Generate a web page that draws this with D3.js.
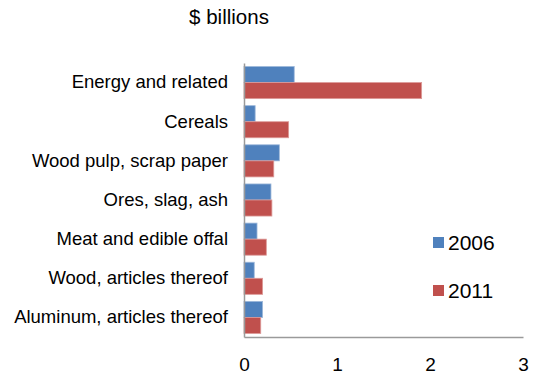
<!DOCTYPE html>
<html>
<head>
<meta charset="utf-8">
<script src="https://cdn.jsdelivr.net/npm/d3@7"></script>
<style>
  html, body { margin: 0; padding: 0; background: #fff; }
  svg { display: block; font-family: "Liberation Sans", Arial, sans-serif; }
</style>
</head>
<body>
<svg id="chart" width="535" height="375"></svg>
<script>
// Categories, top to bottom
const categories = [
  "Energy and related",
  "Cereals",
  "Wood pulp, scrap paper",
  "Ores, slag, ash",
  "Meat and edible offal",
  "Wood, articles thereof",
  "Aluminum, articles thereof"
];
const seriesNames = ["2006", "2011"];
const values2006 = [0.54, 0.12, 0.38, 0.29, 0.14, 0.11, 0.20];
const values2011 = [1.91, 0.48, 0.32, 0.30, 0.24, 0.20, 0.18];
const xTicks = [0, 1, 2, 3];
const colors = ["#4F81BD", "#C0504D"];

const svg = d3.select("#chart");
const plot = { left: 244, right: 523, top: 63, bottom: 337 };
const font = "Liberation Sans, Arial, sans-serif";

const x = d3.scaleLinear().domain([0, 3]).range([plot.left, plot.right]);
const y = d3.scaleBand().domain(categories).range([plot.top, plot.bottom])
  .paddingInner(0.18).paddingOuter(0.09);
const ySub = d3.scaleBand().domain(seriesNames).range([0, y.bandwidth()]);

const rows = categories.map((c, i) => ({ cat: c, vals: [values2006[i], values2011[i]] }));

// Bars
const g = svg.append("g");
rows.forEach(r => {
  r.vals.forEach((v, k) => {
    g.append("rect")
      .attr("x", x(0))
      .attr("y", y(r.cat) + ySub(seriesNames[k]))
      .attr("width", x(v) - x(0))
      .attr("height", ySub.bandwidth())
      .attr("fill", colors[k])
      .attr("stroke", k === 0 ? "#9db8da" : "#dc9a98")
      .attr("stroke-width", 0.8);
  });
});

// Axes
const xAxis = d3.axisBottom(x).tickValues(xTicks).tickFormat(d3.format("d")).tickSize(0);
const gx = svg.append("g").attr("transform", `translate(0,${plot.bottom})`).call(xAxis);
gx.select(".domain").attr("stroke", "#9a9a9a").attr("stroke-width", 1.5);
gx.selectAll("text").attr("font-size", 19).attr("fill", "#000")
  .attr("font-family", font).attr("y", 34).attr("dy", null);

const yAxis = d3.axisLeft(y).tickSize(0).tickPadding(16);
const gy = svg.append("g").attr("transform", `translate(${plot.left},0)`).call(yAxis);
gy.select(".domain").attr("stroke", "#9a9a9a").attr("stroke-width", 1.5);
gy.selectAll("text").attr("font-size", 18.5).attr("fill", "#000")
  .attr("font-family", font);

// Unit title
svg.append("text").attr("x", 229).attr("y", 24).attr("text-anchor", "middle")
  .attr("font-size", 20.5).attr("fill", "#000").text("$ billions");

// Legend
const legend = svg.append("g");
seriesNames.forEach((s, k) => {
  const ly = 237 + k * 48;
  legend.append("rect").attr("x", 433).attr("y", ly).attr("width", 11).attr("height", 11)
    .attr("fill", colors[k]);
  legend.append("text").attr("x", 448).attr("y", ly + 12.5).attr("font-size", 21)
    .attr("fill", "#000").text(s);
});
</script>
</body>
</html>
